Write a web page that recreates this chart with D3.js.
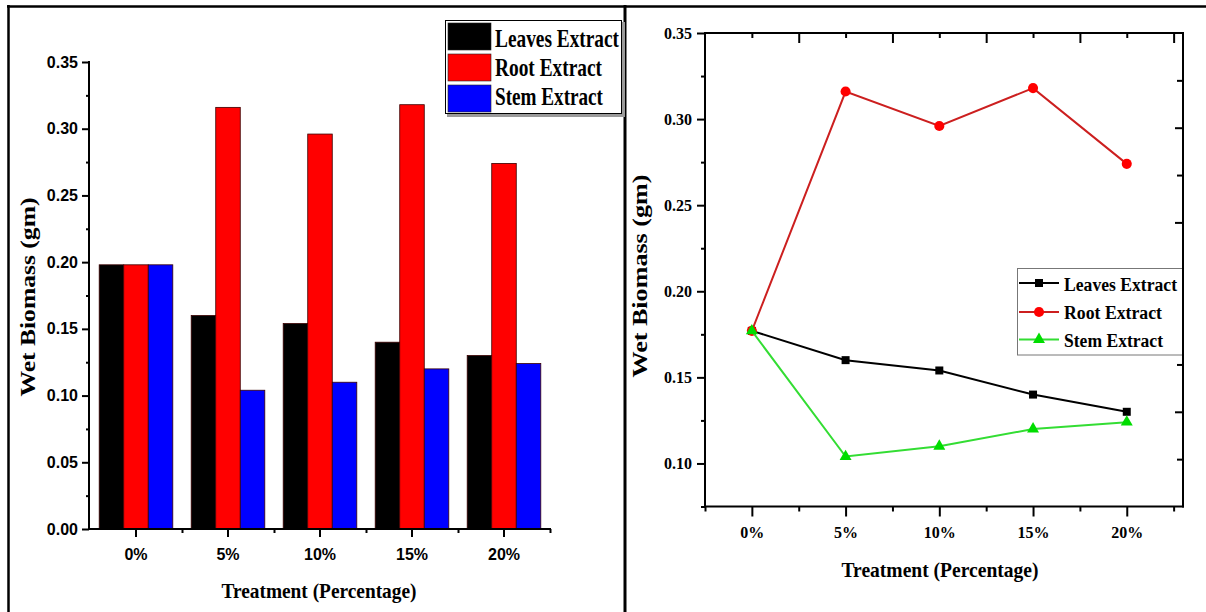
<!DOCTYPE html>
<html>
<head>
<meta charset="utf-8">
<script src="https://cdn.jsdelivr.net/npm/d3@7"></script>
<style>
  html, body { margin: 0; padding: 0; background: #fff; }
  svg { display: block; }
  .sans { font-family: "Liberation Sans", Arial, sans-serif; font-weight: bold; }
  .serif { font-family: "Liberation Serif", "Times New Roman", serif; font-weight: bold; }
</style>
</head>
<body>
<svg id="fig" width="1206" height="612"></svg>
<script>
// ---- data ----
const categories = ["0%", "5%", "10%", "15%", "20%"];
const treatment = [0, 5, 10, 15, 20];
const seriesNames = ["Leaves Extract", "Root Extract", "Stem Extract"];

// bar panel (wet biomass, gm)
const barLeaves = [0.198, 0.160, 0.154, 0.140, 0.130];
const barRoot   = [0.198, 0.316, 0.296, 0.318, 0.274];
const barStem   = [0.198, 0.104, 0.110, 0.120, 0.124];

// line panel (wet biomass, gm)
const lineLeaves = [0.177, 0.160, 0.154, 0.140, 0.130];
const lineRoot   = [0.177, 0.316, 0.296, 0.318, 0.274];
const lineStem   = [0.177, 0.104, 0.110, 0.120, 0.124];

const barYTicks = [0, 0.05, 0.10, 0.15, 0.20, 0.25, 0.30, 0.35];
const barYMinor = [0.025, 0.075, 0.125, 0.175, 0.225, 0.275, 0.325];
const lineYTicks = [0.10, 0.15, 0.20, 0.25, 0.30, 0.35];
const lineYMinor = [0.075, 0.125, 0.175, 0.225, 0.275, 0.325];
const lineXMinor = [-2.5, 2.5, 7.5, 12.5, 17.5, 22.5];

const barColors = ["#000000", "#ff0000", "#0000ff"];
const lineColors = ["#000000", "#cc1f1f", "#33dd33"];
const markerColors = ["#000000", "#ff0000", "#00dd00"];

const svg = d3.select("#fig");

// ---- outer frames ----
const frame = svg.append("g").attr("stroke", "#000").attr("fill", "none");
frame.append("line").attr("x1", 7).attr("x2", 1206).attr("y1", 6.5).attr("y2", 6.5).attr("stroke-width", 2.5);
frame.append("line").attr("x1", 8.5).attr("x2", 8.5).attr("y1", 5).attr("y2", 612).attr("stroke-width", 2.5);
frame.append("line").attr("x1", 625).attr("x2", 625).attr("y1", 5).attr("y2", 612).attr("stroke-width", 3);

function styleAxis(g) {
  g.select(".domain").remove();
  g.selectAll(".tick line").attr("stroke", "#000").attr("stroke-width", 2);
  g.selectAll(".tick text").attr("fill", "#000");
}

// =====================  bar panel  =====================
{
  const barSeries = [barLeaves, barRoot, barStem];
  const x0 = d3.scaleBand().domain(categories).range([90, 550]).paddingInner(0.2).paddingOuter(0.1);
  const x1 = d3.scaleBand().domain(seriesNames).range([0, x0.bandwidth()]);
  const y = d3.scaleLinear().domain([0, 0.35]).range([529, 62]);
  const xl = d3.scaleLinear().domain([-0.5, 4.5]).range([90, 550]);

  const g = svg.append("g");

  // bars
  const groups = g.selectAll("g.cat").data(categories).join("g")
    .attr("class", "cat")
    .attr("transform", c => `translate(${x0(c)},0)`);
  groups.selectAll("rect")
    .data((c, i) => seriesNames.map((s, k) => ({ s, k, v: barSeries[k][i] })))
    .join("rect")
    .attr("x", d => x1(d.s))
    .attr("width", x1.bandwidth())
    .attr("y", d => y(d.v))
    .attr("height", d => y(0) - y(d.v))
    .attr("fill", d => barColors[d.k])
    .attr("stroke", "#3a0000")
    .attr("stroke-width", 0.8);

  // y axis
  const yAx = g.append("g").attr("transform", "translate(89,0)").attr("class", "sans")
    .call(d3.axisLeft(y).tickValues(barYTicks).tickSize(7).tickFormat(d3.format(".2f")));
  styleAxis(yAx);
  yAx.selectAll(".tick text").attr("font-size", 16).attr("x", -11);
  const yMin = g.append("g").attr("transform", "translate(89,0)")
    .call(d3.axisLeft(y).tickValues(barYMinor).tickSize(3).tickFormat(""));
  styleAxis(yMin);

  // x axis
  const xAx = g.append("g").attr("transform", "translate(0,529)").attr("class", "sans")
    .call(d3.axisBottom(x0).tickSize(8).tickSizeOuter(0));
  styleAxis(xAx);
  xAx.selectAll(".tick text").attr("font-size", 16).attr("y", 20);
  const xMin = g.append("g").attr("transform", "translate(0,529)")
    .call(d3.axisBottom(xl).tickValues([0.5, 1.5, 2.5, 3.5, 4.5]).tickSize(4).tickFormat(""));
  styleAxis(xMin);

  // axis lines
  g.append("line").attr("x1", 89).attr("x2", 89).attr("y1", y(0.35) - 1).attr("y2", 530)
    .attr("stroke", "#000").attr("stroke-width", 2);
  g.append("line").attr("x1", 88).attr("x2", 551).attr("y1", 529).attr("y2", 529)
    .attr("stroke", "#000").attr("stroke-width", 2);

  // titles
  g.append("text").attr("class", "serif").attr("font-size", 22)
    .attr("x", 319).attr("y", 598).attr("text-anchor", "middle")
    .attr("textLength", 195).attr("lengthAdjust", "spacingAndGlyphs")
    .text("Treatment (Percentage)");
  g.append("text").attr("class", "serif").attr("font-size", 21)
    .attr("transform", "translate(35,297) rotate(-90)").attr("text-anchor", "middle")
    .attr("textLength", 199).attr("lengthAdjust", "spacingAndGlyphs")
    .text("Wet Biomass (gm)");

  // legend
  const lg = g.append("g");
  lg.append("rect").attr("x", 447).attr("y", 22).attr("width", 178).attr("height", 95).attr("fill", "#9a9a9a");
  lg.append("rect").attr("x", 445.5).attr("y", 20.5).attr("width", 176).attr("height", 93)
    .attr("fill", "#fff").attr("stroke", "#000").attr("stroke-width", 1);
  const rowTop = [23, 54, 85];
  const rowBase = [46.7, 76, 105];
  const rowLen = [124, 107, 108];
  seriesNames.forEach((s, k) => {
    lg.append("rect").attr("x", 448).attr("y", rowTop[k]).attr("width", 43).attr("height", 27)
      .attr("fill", barColors[k]).attr("stroke", "#222").attr("stroke-width", 0.6);
    lg.append("text").attr("class", "serif").attr("font-size", 25)
      .attr("x", 495).attr("y", rowBase[k])
      .attr("textLength", rowLen[k]).attr("lengthAdjust", "spacingAndGlyphs")
      .text(s);
  });
}

// =====================  line panel  =====================
{
  const lineSeries = [lineLeaves, lineRoot, lineStem];
  const x = d3.scaleLinear().domain([-2.5, 23]).range([705, 1183]);
  const y = d3.scaleLinear().domain([0.075, 0.35]).range([506.5, 33]);
  const yr = d3.scaleLinear().domain([0, 10]).range([506.5, 33]);
  const g = svg.append("g");

  // left axis
  const yAx = g.append("g").attr("transform", "translate(705,0)").attr("class", "serif")
    .call(d3.axisLeft(y).tickValues(lineYTicks).tickSize(8).tickFormat(d3.format(".2f")));
  styleAxis(yAx);
  yAx.selectAll(".tick text").attr("font-size", 16).attr("x", -13);
  styleAxis(g.append("g").attr("transform", "translate(705,0)")
    .call(d3.axisLeft(y).tickValues(lineYMinor).tickSize(4).tickFormat("")));

  // bottom axis
  const xAx = g.append("g").attr("transform", "translate(0,506.5)").attr("class", "serif")
    .call(d3.axisBottom(x).tickValues(treatment).tickSize(10).tickFormat(d => d + "%"));
  styleAxis(xAx);
  xAx.selectAll(".tick text").attr("font-size", 16).attr("y", 20);
  styleAxis(g.append("g").attr("transform", "translate(0,506.5)")
    .call(d3.axisBottom(x).tickValues(lineXMinor).tickSize(5).tickFormat("")));

  // top axis (inward ticks)
  styleAxis(g.append("g").attr("transform", "translate(0,33)")
    .call(d3.axisTop(x).tickValues(treatment).tickSize(-5).tickFormat("")));
  styleAxis(g.append("g").attr("transform", "translate(0,33)")
    .call(d3.axisTop(x).tickValues(lineXMinor.slice(1)).tickSize(-10).tickFormat("")));

  // right axis (inward ticks)
  styleAxis(g.append("g").attr("transform", "translate(1183,0)")
    .call(d3.axisRight(yr).tickValues([2, 4, 6, 8]).tickSize(-8).tickFormat("")));
  styleAxis(g.append("g").attr("transform", "translate(1183,0)")
    .call(d3.axisRight(yr).tickValues([1, 3, 5, 7, 9]).tickSize(-6).tickFormat("")));

  // plot frame
  g.append("rect").attr("x", 705).attr("y", 33).attr("width", 1183 - 705).attr("height", 506.5 - 33)
    .attr("fill", "none").attr("stroke", "#000").attr("stroke-width", 2);

  // series
  const symbols = [d3.symbolSquare, d3.symbolCircle, d3.symbolTriangle];
  const symSize = [64, 80, 62];
  const line = d3.line().x((v, i) => x(treatment[i])).y(v => y(v));
  lineSeries.forEach((vals, k) => {
    g.append("path").attr("d", line(vals)).attr("fill", "none")
      .attr("stroke", lineColors[k]).attr("stroke-width", 2);
    g.selectAll(null).data(vals).join("path")
      .attr("transform", (v, i) => `translate(${x(treatment[i])},${y(v)})`)
      .attr("d", d3.symbol().type(symbols[k]).size(symSize[k]))
      .attr("fill", markerColors[k]);
  });

  // titles
  g.append("text").attr("class", "serif").attr("font-size", 22)
    .attr("x", 940).attr("y", 577).attr("text-anchor", "middle")
    .attr("textLength", 197).attr("lengthAdjust", "spacingAndGlyphs")
    .text("Treatment (Percentage)");
  g.append("text").attr("class", "serif").attr("font-size", 21)
    .attr("transform", "translate(647,276) rotate(-90)").attr("text-anchor", "middle")
    .attr("textLength", 203).attr("lengthAdjust", "spacingAndGlyphs")
    .text("Wet Biomass (gm)");

  // legend
  const lg = g.append("g");
  lg.append("rect").attr("x", 1017.5).attr("y", 268.5).attr("width", 165).attr("height", 86.5)
    .attr("fill", "#fff").attr("stroke", "#777").attr("stroke-width", 1);
  const rowMid = [283, 312, 339.5];
  const rowBase = [290.7, 318.5, 347];
  const rowLen = [113, 98, 99];
  seriesNames.forEach((s, k) => {
    lg.append("line").attr("x1", 1019).attr("x2", 1059).attr("y1", rowMid[k]).attr("y2", rowMid[k])
      .attr("stroke", lineColors[k]).attr("stroke-width", 2);
    lg.append("path").attr("transform", `translate(1039,${rowMid[k]})`)
      .attr("d", d3.symbol().type(symbols[k]).size(symSize[k]))
      .attr("fill", markerColors[k]);
    lg.append("text").attr("class", "serif").attr("font-size", 18.5)
      .attr("x", 1064).attr("y", rowBase[k])
      .attr("textLength", rowLen[k]).attr("lengthAdjust", "spacingAndGlyphs")
      .text(s);
  });
  // right axis line over the legend edge
  g.append("line").attr("x1", 1183).attr("x2", 1183).attr("y1", 33).attr("y2", 507.5)
    .attr("stroke", "#000").attr("stroke-width", 2);
}
</script>
</body>
</html>
